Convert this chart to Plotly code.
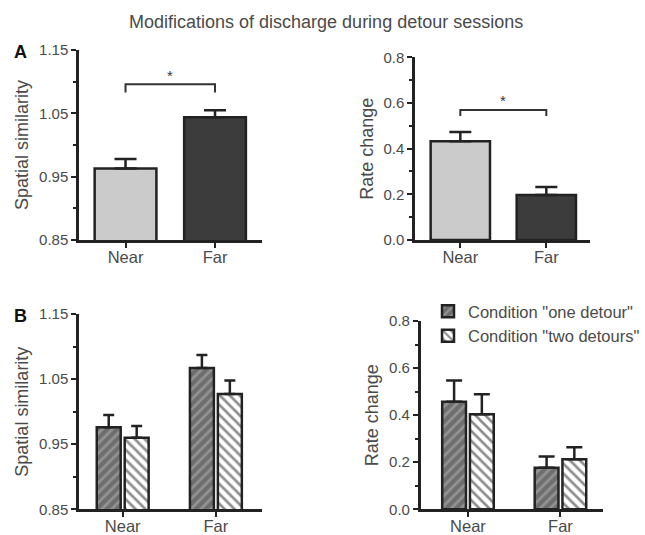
import plotly.graph_objects as go

# ---------------- data ----------------
categories = ["Near", "Far"]

a_similarity = [0.963, 1.044]
a_similarity_err = [0.015, 0.011]
a_rate = [0.432, 0.197]
a_rate_err = [0.041, 0.035]

b_sim_one = [0.976, 1.067]
b_sim_one_err = [0.019, 0.020]
b_sim_two = [0.960, 1.027]
b_sim_two_err = [0.018, 0.021]

b_rate_one = [0.457, 0.176]
b_rate_one_err = [0.090, 0.048]
b_rate_two = [0.404, 0.213]
b_rate_two_err = [0.085, 0.051]

series_names = ['Condition "one detour"', 'Condition "two detours"']
a_colors = ["#cbcbcb", "#3c3c3c"]

# ---------------- helpers ----------------
W, H = 645, 535
FONT = "Arial, Liberation Sans, sans-serif"
INK = "#222222"
TXT = "#4a4a4a"


def xd(a, b):
    return [a / W, b / W]


def yd(top, bottom):
    return [1 - bottom / H, 1 - top / H]


def err(vals):
    return dict(type="data", array=vals, arrayminus=[0] * len(vals), symmetric=False,
                color=INK, thickness=2.5)


fig = go.Figure()

# Panel A left
fig.add_trace(go.Bar(x=categories, y=a_similarity, width=0.69,
                     marker=dict(color=a_colors, line=dict(color=INK, width=2.5)),
                     error_y={**err(a_similarity_err), "width": 11},
                     xaxis="x", yaxis="y", showlegend=False))
# Panel A right
fig.add_trace(go.Bar(x=categories, y=a_rate, width=0.69,
                     marker=dict(color=a_colors, line=dict(color=INK, width=2.5)),
                     error_y={**err(a_rate_err), "width": 11},
                     xaxis="x2", yaxis="y2", showlegend=False))

pat_one = dict(shape="/", bgcolor="#6e6e6e", fgcolor="#b8b8b8", size=7, solidity=0.38, fillmode="overlay")
pat_two = dict(shape="\\", bgcolor="#ffffff", fgcolor="#1e1e1e", size=7, solidity=0.38, fillmode="overlay")

# Panel B left
fig.add_trace(go.Bar(x=categories, y=b_sim_one, name=series_names[0], legendgroup="one",
                     marker=dict(color="#6e6e6e", pattern=pat_one, line=dict(color=INK, width=2.5)),
                     error_y={**err(b_sim_one_err), "width": 5.5},
                     xaxis="x3", yaxis="y3", showlegend=False))
fig.add_trace(go.Bar(x=categories, y=b_sim_two, name=series_names[1], legendgroup="two",
                     marker=dict(color="#ffffff", pattern=pat_two, line=dict(color=INK, width=2.5)),
                     error_y={**err(b_sim_two_err), "width": 5.5},
                     xaxis="x3", yaxis="y3", showlegend=False))
# Panel B right
fig.add_trace(go.Bar(x=categories, y=b_rate_one, name=series_names[0], legendgroup="one",
                     marker=dict(color="#6e6e6e", pattern=pat_one, line=dict(color=INK, width=2.5)),
                     error_y={**err(b_rate_one_err), "width": 8},
                     xaxis="x4", yaxis="y4", showlegend=True))
fig.add_trace(go.Bar(x=categories, y=b_rate_two, name=series_names[1], legendgroup="two",
                     marker=dict(color="#ffffff", pattern=pat_two, line=dict(color=INK, width=2.5)),
                     error_y={**err(b_rate_two_err), "width": 8},
                     xaxis="x4", yaxis="y4", showlegend=True))

xcommon = dict(type="category", showline=True, linewidth=2.5, linecolor=INK,
               ticks="outside", ticklen=5, tickwidth=2, tickcolor=INK,
               tickfont=dict(family=FONT, size=16.5, color=TXT), ticklabelstandoff=-5,
               showgrid=False, zeroline=False, fixedrange=True, automargin=False)


def ycommon(rng, dtick, fmt, title, standoff):
    return dict(range=rng, tick0=rng[0], dtick=dtick, tickformat=fmt,
                showline=True, linewidth=2.5, linecolor=INK,
                ticks="outside", ticklen=5, tickwidth=2, tickcolor=INK,
                minor=dict(ticks="outside", ticklen=3, tickwidth=1.5, tickcolor=INK,
                           tick0=rng[0], dtick=dtick / 2),
                tickfont=dict(family=FONT, size=15, color=TXT),
                title=dict(text=title, font=dict(family=FONT, size=18, color=TXT), standoff=standoff),
                showgrid=False, zeroline=False, fixedrange=True, automargin=False)


fig.update_layout(
    width=W, height=H,
    margin=dict(l=0, r=0, t=0, b=0, autoexpand=False),
    paper_bgcolor="white", plot_bgcolor="white",
    barmode="group", bargap=0.4, bargroupgap=0.143,
    xaxis=dict(**xcommon, domain=xd(79, 262), range=[-0.52, 1.525], anchor="y"),
    yaxis=dict(**ycommon([0.85, 1.15], 0.1, ".2f", "Spatial similarity", 6), domain=yd(50, 240), anchor="x"),
    xaxis2=dict(**xcommon, domain=xd(415, 590), range=[-0.527, 1.508], anchor="y2"),
    yaxis2=dict(**ycommon([0, 0.8], 0.2, ".1f", "Rate change", 6), domain=yd(57.3, 240), anchor="x2"),
    xaxis3=dict(**xcommon, domain=xd(79, 262), range=[-0.469, 1.495], anchor="y3"),
    yaxis3=dict(**ycommon([0.85, 1.15], 0.1, ".2f", "Spatial similarity", 6), domain=yd(314, 509.3), anchor="x3"),
    xaxis4=dict(**xcommon, domain=xd(420.7, 603), range=[-0.511, 1.46], anchor="y4"),
    yaxis4=dict(**ycommon([0, 0.8], 0.2, ".1f", "Rate change", 6), domain=yd(321, 509.3), anchor="x4"),
    legend=dict(x=428 / W, y=1 - 294 / H, xanchor="left", yanchor="top",
                font=dict(family=FONT, size=16.5, color=TXT), bgcolor="rgba(0,0,0,0)",
                tracegroupgap=0, traceorder="normal"),
    font=dict(family=FONT, color=TXT),
)

# significance brackets
for xr, yr, ytop, ylow, ystar in [("x", "y", 1.096, 1.083, 1.109), ("x2", "y2", 0.569, 0.543, 0.612)]:
    fig.add_shape(type="path", xref=xr, yref=yr,
                  path=f"M 0,{ylow} L 0,{ytop} L 1,{ytop} L 1,{ylow}",
                  line=dict(color="#333333", width=2))
    fig.add_annotation(x=0.5, y=ystar, xref=xr, yref=yr, text="*", showarrow=False,
                       font=dict(family=FONT, size=15, color="#333333"),
                       xanchor="center", yanchor="middle")

# title and panel letters
fig.add_annotation(x=326 / W, y=1 - 22 / H, xref="paper", yref="paper",
                   text="Modifications of discharge during detour sessions", showarrow=False,
                   xanchor="center", yanchor="middle",
                   font=dict(family=FONT, size=18, color=TXT))
fig.add_annotation(x=20 / W, y=1 - 52 / H, xref="paper", yref="paper", text="<b>A</b>",
                   showarrow=False, xanchor="center", yanchor="middle",
                   font=dict(family=FONT, size=18, color="#111111"))
fig.add_annotation(x=20 / W, y=1 - 316 / H, xref="paper", yref="paper", text="<b>B</b>",
                   showarrow=False, xanchor="center", yanchor="middle",
                   font=dict(family=FONT, size=18, color="#111111"))

fig.write_html("out.html", config={"displayModeBar": False},
               post_script="document.body.style.margin='0';document.body.style.padding='0';")
